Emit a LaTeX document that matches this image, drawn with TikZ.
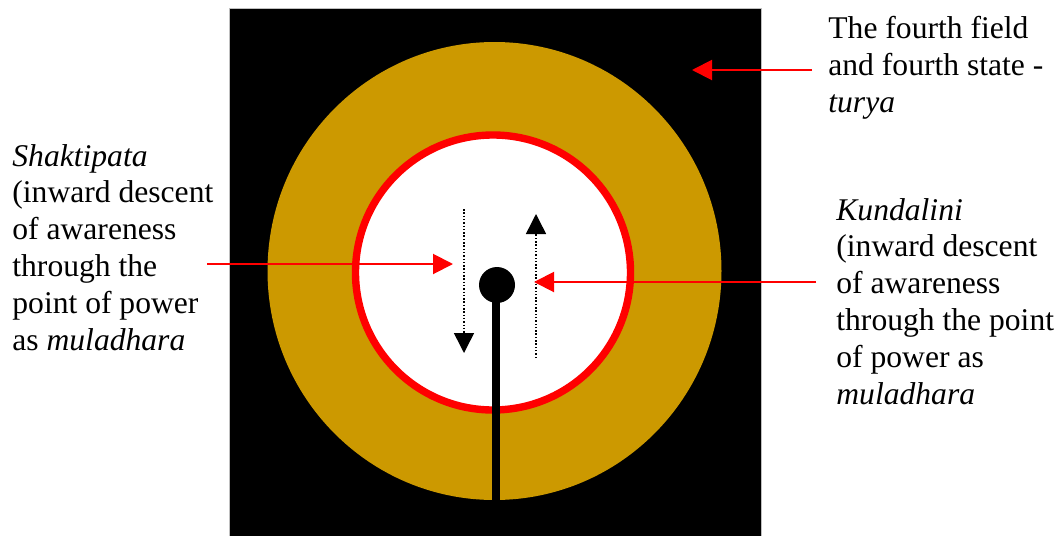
\documentclass[tikz,border=0pt]{standalone}
\usepackage{fontspec}
\setmainfont{Liberation Serif}
\usetikzlibrary{arrows.meta}
\definecolor{gold}{HTML}{CC9900}
\definecolor{redline}{HTML}{FF0000}
\tikzset{
  label/.style={anchor=base west, inner sep=0pt, align=left, font=\fontsize{15.8}{18.4}\selectfont},
  redarrow/.style={draw=redline, line width=1pt, -{Triangle[length=10pt,width=10pt]}},
  dotarrow/.style={draw=black, line width=0.75pt, dash pattern=on 0.75pt off 0.9pt, -{Triangle[length=10pt,width=10pt]}}
}
\begin{document}
\begin{tikzpicture}[x=0.5pt,y=-0.5pt]
\useasboundingbox (0,0) rectangle (1060,536);
% background square
\fill[black] (229,8) rectangle (761,536);
\draw[gray!50, line width=0.5pt] (229,536) -- (229,8) -- (761,8) -- (761,536);
% gold disc
\fill[gold] (494.5,271) ellipse [x radius=227, y radius=229];
% white disc with red ring
\filldraw[fill=white, draw=redline, line width=3.7pt] (493,272.5) circle [radius=137.5];
% stem and dot
\fill[black] (492,285) rectangle (500,503);
\node[circle, fill=black, minimum size=18pt, inner sep=0pt] (dot) at (497,285) {};
% dotted arrows
\coordinate (dls) at (464,209);
\coordinate (dle) at (464,353);
\coordinate (drs) at (536,358);
\coordinate (dre) at (536,214);
\draw[dotarrow] (dls) -- (dle);
\draw[dotarrow] (drs) -- (dre);
% labels (anchored at the baseline of their last line)
\node[label] (turya) at (828,112) {The fourth field\\and fourth state -\\\textit{turya}};
\node[label] (shakti) at (12,350) {\textit{Shaktipata}\\(inward descent\\of awareness\\through the\\point of power\\as \textit{muladhara}};
\node[label] (kunda) at (836,404) {\textit{Kundalini}\\(inward descent\\of awareness\\through the point\\of power as\\\textit{muladhara}};
% red arrows
\coordinate (ts) at (812,70);
\coordinate (te) at (692,70);
\coordinate (ls) at (207,264);
\coordinate (le) at (453,264);
\coordinate (rs) at (816,282);
\coordinate (re) at (534,282);
\draw[redarrow] (ts) -- (te);
\draw[redarrow] (ls) -- (le);
\draw[redarrow] (rs) -- (re);
\end{tikzpicture}
\end{document}
